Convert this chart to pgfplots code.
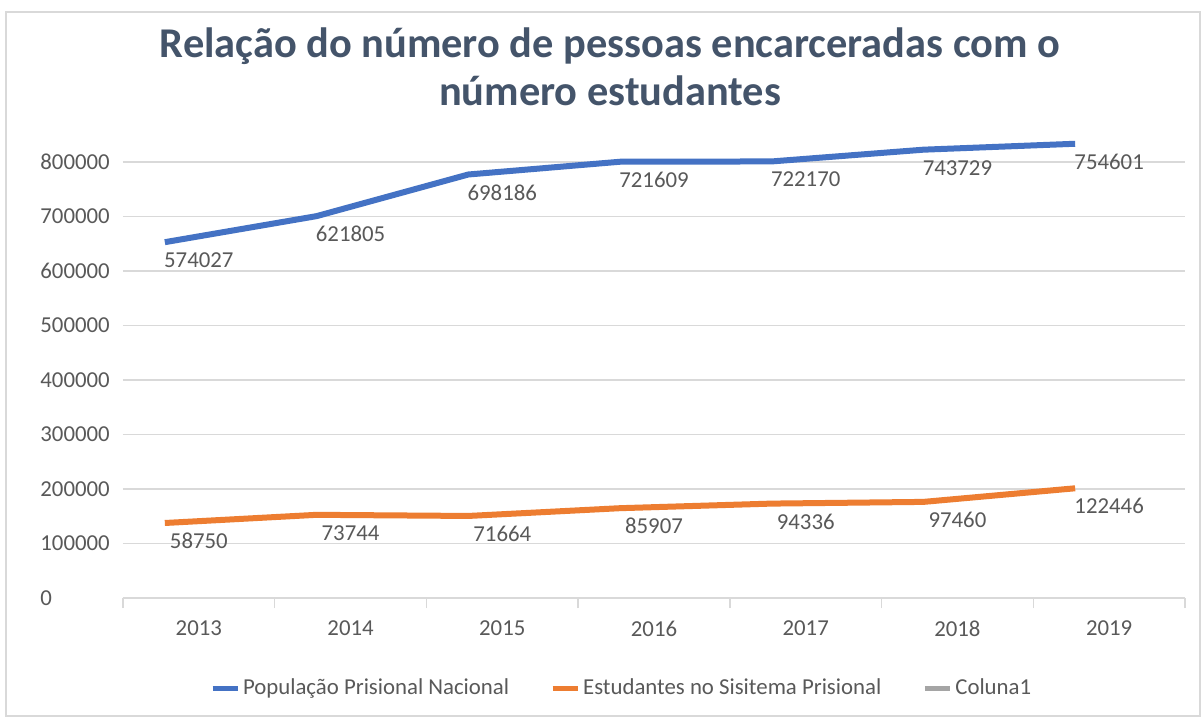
\documentclass[border=0pt]{standalone}
\usepackage{pgfplots}
\pgfplotsset{compat=1.18}
\usepackage{pgfplotstable}
\usepackage{fontspec}
\setmainfont{Carlito}
\definecolor{serblue}{HTML}{4472C4}
\definecolor{serorange}{HTML}{ED7D31}
\definecolor{sergray}{HTML}{A5A5A5}
\definecolor{gridc}{HTML}{D9D9D9}
\definecolor{txt}{HTML}{595959}
\definecolor{titlec}{HTML}{44546A}

\pgfplotstableread{
x pop est
0 574027 58750
1 621805 73744
2 698186 71664
3 721609 85907
4 722170 94336
5 743729 97460
6 754601 122446
}\datatab

\begin{document}
\begin{tikzpicture}
\path[use as bounding box] (-61.5pt,-61pt) rectangle (540.5pt,299pt);
\fill[white] (-61.5pt,-61pt) rectangle (540.5pt,299pt);
\draw[gridc, line width=0.75pt] (-58.5pt,-59pt) rectangle (538.5pt,293pt);
\begin{axis}[
  at={(0pt,0pt)}, anchor=south west,
  scale only axis, width=531pt, height=218pt,
  xmin=-0.5, xmax=6.5, ymin=0, ymax=800000,
  enlargelimits=false, clip=false,
  axis x line*=bottom, axis y line*=left,
  x axis line style={draw=gridc, line width=0.75pt},
  y axis line style={draw=none},
  xtick={0,...,6},
  xticklabels={2013,2014,2015,2016,2017,2018,2019},
  minor xtick={-0.5,0.5,...,6.5},
  major tick length=0pt, minor tick length=5pt,
  tick align=outside,
  xtick style={draw=gridc, line width=0.75pt},
  ytick style={draw=none},
  ytick={0,100000,200000,300000,400000,500000,600000,700000,800000},
  yticklabels={0,100000,200000,300000,400000,500000,600000,700000,800000},
  scaled y ticks=false,
  ymajorgrids, grid style={draw=gridc, line width=0.6pt},
  ticklabel style={font=\fontsize{11.4}{13}\selectfont, text=txt},
  xticklabel style={anchor=center, yshift=-15.25pt},
  yticklabel style={anchor=west, inner sep=0pt, xshift=-41.5pt},
  legend style={at={(0.4700,-0.2064)}, anchor=center, draw=none, fill=none,
    legend columns=-1, font=\fontsize{11.4}{13}\selectfont, text=txt,
    /tikz/every even column/.append style={column sep=19pt},
    nodes={inner sep=1.5pt}},
  legend image code/.code={\draw[#1, line width=2.5pt, line cap=butt] (0pt,0pt) -- (12.5pt,0pt);},
]
\addplot[serblue, line width=3pt, line join=round, forget plot, xshift=-17pt, yshift=21.5pt] table[x=x, y=pop] \datatab;
\addplot[serorange, line width=3pt, line join=round, forget plot, xshift=-17pt, yshift=21.5pt] table[x=x, y=est] \datatab;
\addlegendimage{serblue, line width=3pt}
\addlegendentry{População Prisional Nacional}
\addlegendimage{serorange, line width=3pt}
\addlegendentry{Estudantes no Sisitema Prisional}
\addlegendimage{sergray, line width=3pt}
\addlegendentry{Coluna1}
\addplot[draw=none, forget plot, point meta=explicit symbolic,
  nodes near coords={\pgfplotspointmeta},
  every node near coord/.style={anchor=center, yshift=12.5pt, font=\fontsize{11.4}{13}\selectfont, text=txt, inner sep=0pt}]
  table[x=x, y=pop, meta=pop] \datatab;
\addplot[draw=none, forget plot, point meta=explicit symbolic,
  nodes near coords={\pgfplotspointmeta},
  every node near coord/.style={anchor=center, yshift=12.5pt, font=\fontsize{11.4}{13}\selectfont, text=txt, inner sep=0pt}]
  table[x=x, y=est, meta=est] \datatab;
\end{axis}
\node[anchor=base, font=\fontsize{21.2}{24}\selectfont\bfseries, text=titlec] at (243.5pt,270.5pt) {Relação do número de pessoas encarceradas com o};
\node[anchor=base, font=\fontsize{21.2}{24}\selectfont\bfseries, text=titlec] at (243.5pt,246.5pt) {número estudantes};
\end{tikzpicture}
\end{document}
